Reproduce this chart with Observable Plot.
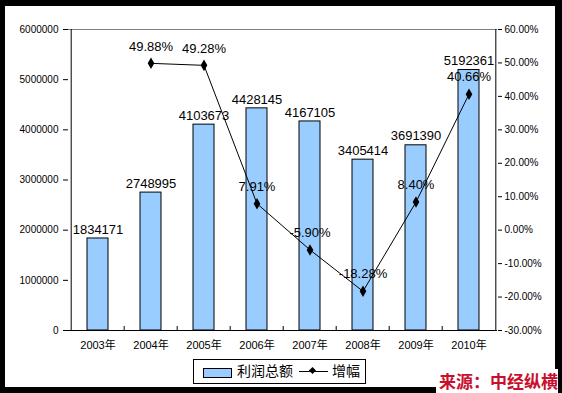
<!DOCTYPE html>
<html><head><meta charset="utf-8">
<script src="https://cdn.jsdelivr.net/npm/d3@7"></script>
<script src="https://cdn.jsdelivr.net/npm/@observablehq/plot@0.6"></script>
<style>
html,body{margin:0;padding:0;background:#000;}
#wrap{position:relative;width:562px;height:393px;background:#000;overflow:hidden;font-family:Arial,"Liberation Sans","Noto Sans CJK SC",sans-serif;}
#panel{position:absolute;left:5px;top:6px;width:550px;height:381px;background:#fff;}
#chart{position:absolute;left:0;top:0;}
#legend{position:absolute;left:193px;top:359px;width:171px;height:23px;border:1px solid #000;background:#fff;font-size:14px;line-height:23px;color:#000;}
#legend .sw{position:absolute;left:9px;top:8px;width:27px;height:8px;border:1px solid #000;background:#99CCFF;}
#legend .t1{position:absolute;left:43px;top:0;white-space:nowrap;}
#legend .ln{position:absolute;left:105px;top:11px;width:29px;height:1px;background:#000;}
#legend .dm{position:absolute;left:116px;top:8px;width:5px;height:5px;background:#000;transform:rotate(45deg);}
#legend .t2{position:absolute;left:138px;top:0;white-space:nowrap;}
#source{position:absolute;left:436px;top:369px;width:122px;height:24px;background:#fff;color:#C8102E;font-weight:bold;font-size:17px;line-height:24px;font-family:"Noto Sans CJK SC",sans-serif;white-space:nowrap;text-align:right;}
</style>
</head>
<body>
<div id="wrap">
  <div id="panel"></div>
  <div id="chart"></div>
  <div id="legend"><div class="sw"></div><div class="t1">利润总额</div><div class="ln"></div><div class="dm"></div><div class="t2">增幅</div></div>
  <div id="source">来源：中经纵横</div>
</div>
<script>
const years = ["2003年","2004年","2005年","2006年","2007年","2008年","2009年","2010年"];
const profit = [1834171, 2748995, 4103673, 4428145, 4167105, 3405414, 3691390, 5192361];
const growth = [null, 49.88, 49.28, 7.91, -5.90, -18.28, 8.40, 40.66];
const leftTicks = [0, 1000000, 2000000, 3000000, 4000000, 5000000, 6000000];
const rightTicks = [-30, -20, -10, 0, 10, 20, 30, 40, 50, 60];

const W = 562, H = 355, mL = 68, mR = 65, mT = 29, mB = 25;
const yMax = 6000000, gMin = -30, gMax = 60;
const toLeft = g => (g - gMin) / (gMax - gMin) * yMax;
const fromLeft = v => v / yMax * (gMax - gMin) + gMin;
const rows = years.map((y, i) => ({year: y, profit: profit[i], growth: growth[i]}));
const lineRows = rows.filter(d => d.growth != null);
const step = (W - mL - mR) / years.length;
const tickLen = 4 / (H - mT - mB) * yMax;
const font = 'Arial, "Liberation Sans", "Noto Sans CJK SC", sans-serif';

const chart = Plot.plot({
  width: W, height: H,
  marginLeft: mL, marginRight: mR, marginTop: mT, marginBottom: mB,
  style: {background: "transparent", fontFamily: font, fontSize: "10px", color: "#000"},
  x: {domain: years, padding: 0, label: null},
  y: {domain: [0, yMax], label: null},
  marks: [
    Plot.ruleY([yMax], {stroke: "#808080"}),
    Plot.barY(rows, {x: "year", y: "profit", fill: "#99CCFF", stroke: "#000", strokeWidth: 1, insetLeft: 16, insetRight: 16}),
    Plot.ruleY([0], {stroke: "#000"}),
    Plot.ruleX([years[0]], {dx: -step / 2, stroke: "#000"}),
    Plot.ruleX([years[years.length - 1]], {dx: step / 2, stroke: "#000"}),
    Plot.ruleX(years.slice(1), {y1: 0, y2: tickLen, dx: -step / 2, stroke: "#000"}),
    Plot.axisY(leftTicks, {anchor: "left", tickSize: 5, tickPadding: 5, tickFormat: d3.format("d"), fontSize: 10}),
    Plot.axisY(rightTicks.map(toLeft), {anchor: "right", tickSize: 4, tickPadding: 3, fontSize: 10,
      tickFormat: d => Math.round(fromLeft(d)).toFixed(2) + "%"}),
    Plot.axisX({tickSize: 0, tickPadding: 11, fontSize: 11}),
    Plot.text(rows, {x: "year", y: "profit", text: d => String(d.profit), dy: -9, fontSize: 13}),
    Plot.line(lineRows, {x: "year", y: d => toLeft(d.growth), stroke: "#000", strokeWidth: 1}),
    Plot.dot(lineRows, {x: "year", y: d => toLeft(d.growth), symbol: "diamond", r: 3.5, fill: "#000", stroke: "none"}),
    Plot.text(lineRows, {x: "year", y: d => toLeft(d.growth), text: d => d.growth.toFixed(2) + "%", dy: -17, fontSize: 13})
  ]
});
document.getElementById("chart").appendChild(chart);
</script>
</body></html>
